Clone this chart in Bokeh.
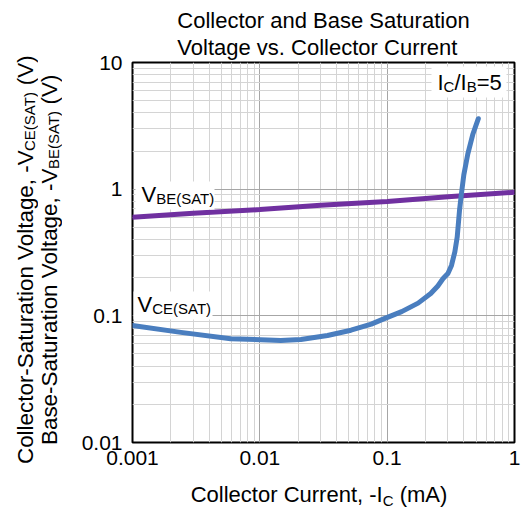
import math
from bokeh.plotting import figure
from bokeh.models import Label, BoxAnnotation, FixedTicker, Div
from bokeh.layouts import row, column
from bokeh.embed import file_html
from bokeh.resources import INLINE

# ---------------- data ----------------
x_ticks = [0.001, 0.01, 0.1, 1]
x_tick_labels = ["0.001", "0.01", "0.1", "1"]
y_ticks = [0.01, 0.1, 1, 10]
y_tick_labels = ["0.01", "0.1", "1", "10"]

ic_vbe = [0.001, 0.003, 0.01, 0.03, 0.1, 0.3, 1.0]
vbe_sat = [0.60, 0.645, 0.69, 0.745, 0.80, 0.87, 0.945]

ic_vce = [0.001, 0.0024, 0.0059, 0.0146, 0.021, 0.034, 0.052, 0.075, 0.095, 0.13,
          0.175, 0.22, 0.25, 0.275, 0.30, 0.32, 0.34, 0.355, 0.37, 0.383, 0.40,
          0.43, 0.47, 0.52]
vce_sat = [0.084, 0.074, 0.066, 0.064, 0.065, 0.070, 0.077, 0.086, 0.095, 0.108,
           0.126, 0.150, 0.172, 0.197, 0.216, 0.25, 0.32, 0.42, 0.68, 0.92, 1.3,
           1.9, 2.7, 3.6]

title_lines = ["Collector and Base Saturation", "Voltage vs. Collector Current"]

# ---------------- layout (Bokeh's page has no body margin) ----------------
YL_W = 66              # width of the y-label strip
PW, PH = 455, 480      # figure size
XL_H = 36              # x-label strip height
BL, BR, BT, BB = 66, 7, 62, 38
FL = YL_W + BL                 # 132
FR = YL_W + PW - BR            # 514
FT = BT                        # 62
FB = PH - BB                   # 442

XMIN, XMAX = 0.001, 1.0
YMIN, YMAX = 0.01, 10.0
LX0, LX1 = math.log10(XMIN), math.log10(XMAX)
LY0, LY1 = math.log10(YMIN), math.log10(YMAX)


def xd(px):
    return 10 ** (LX0 + (LX1 - LX0) * (px - FL) / (FR - FL))


def yd(py):
    return 10 ** (LY0 + (LY1 - LY0) * (FB - py) / (FB - FT))


FONT = "Liberation Sans"
CW = {' ': 278, '(': 333, ')': 333, ',': 278, '-': 333, '.': 278, '/': 278,
      '=': 584, 'A': 667, 'B': 667, 'C': 722, 'E': 667, 'I': 278, 'S': 667,
      'T': 611, 'V': 667}
for d in "0123456789":
    CW[d] = 556


def tw(text, size):
    return sum(CW.get(c, 556) for c in text) / 1000.0 * size


p = figure(width=PW, height=PH, x_axis_type="log", y_axis_type="log",
           x_range=(XMIN, XMAX), y_range=(YMIN, YMAX),
           output_backend="svg", toolbar_location=None,
           min_border_left=BL, min_border_right=BR, min_border_top=BT,
           min_border_bottom=BB, margin=(0, 0, 0, 0))
p.background_fill_color = "white"
p.border_fill_color = "white"
p.outline_line_color = "black"
p.outline_line_width = 2

p.title.text = "\n".join(title_lines)
p.title.align = "center"
p.title.text_font = FONT
p.title.text_font_size = "22px"
p.title.text_font_style = "normal"
p.title.text_color = "black"
p.title.text_line_height = 1.1
p.title.standoff = 5

minor_x = [m * 10 ** k for k in range(-3, 0) for m in range(2, 10)]
minor_y = [m * 10 ** k for k in range(-2, 1) for m in range(2, 10)]
p.xaxis.ticker = FixedTicker(ticks=x_ticks, minor_ticks=minor_x)
p.yaxis.ticker = FixedTicker(ticks=y_ticks, minor_ticks=minor_y)
p.xaxis.major_label_overrides = dict(zip(x_ticks, x_tick_labels))
p.yaxis.major_label_overrides = dict(zip(y_ticks, y_tick_labels))

for ax in (p.xaxis, p.yaxis):
    ax.axis_line_color = None
    ax.major_tick_line_color = None
    ax.minor_tick_line_color = None
    ax.major_tick_out = 0
    ax.major_tick_in = 0
    ax.minor_tick_out = 0
    ax.minor_tick_in = 0
    ax.major_label_text_font = FONT
    ax.major_label_text_font_size = "21px"
    ax.major_label_text_color = "black"
p.xaxis.major_label_standoff = 8
p.yaxis.major_label_standoff = 10

for g in (p.xgrid, p.ygrid):
    g.grid_line_color = "#a6a6a6"
    g.grid_line_width = 1
    g.minor_grid_line_color = "#d4d4d4"
    g.minor_grid_line_width = 1

p.line(ic_vbe, vbe_sat, line_width=5, line_color="#7030a0", line_cap="round")
p.line(ic_vce, vce_sat, line_width=5, line_color="#4a7ebf", line_cap="round",
       line_join="round")

MAIN, SUB, SUBOFF = 22, 15, 4


def add_text(px, py, text, size):
    p.add_layout(Label(x=xd(px), y=yd(py), text=text, text_font=FONT,
                       text_font_size=f"{size}px", text_color="black",
                       text_align="left", text_baseline="alphabetic"))


def rich(px, py, parts):
    pos = px
    for t, s in parts:
        size = SUB if s else MAIN
        add_text(pos, py + (SUBOFF if s else 0), t, size)
        pos += tw(t, size)


# white boxes behind in-plot labels
for l, r, t, b in [(135, 214, 181, 209), (133, 212, 291, 319), (431, 506, 66, 97)]:
    p.add_layout(BoxAnnotation(left=xd(l), right=xd(r), top=yd(t), bottom=yd(b),
                               fill_color="white", fill_alpha=1.0, line_color=None))

rich(141, 194, [("V", False), ("BE(SAT)", True)])
rich(137, 304, [("V", False), ("CE(SAT)", True)])
rich(437, 82, [("I", False), ("C", True), ("/I", False), ("B", True), ("=5", False)])

# ---------------- axis titles as HTML text (with subscripts) ----------------
BASE = f"font-family:'{FONT}',Arial,sans-serif;color:black;"
SUBV = "font-size:15px;position:relative;left:-4px;"
SUBH = "font-size:15px;position:relative;top:4px;"


def vline(left, main, sub, tail):
    return (f'<div style="position:absolute;left:{left}px;top:4px;width:24px;height:512px;'
            f'writing-mode:vertical-rl;transform:rotate(180deg);text-align:center;'
            f'line-height:24px;font-size:22.4px;white-space:nowrap;">'
            f'{main}<span style="{SUBV}">{sub}</span>{tail}</div>')


ytext = (f'<div style="position:relative;width:{YL_W}px;height:516px;{BASE}">'
         + vline(14, "Collector-Saturation Voltage, -V", "CE(SAT)", " (V)")
         + vline(38, "Base-Saturation Voltage, -V", "BE(SAT)", " (V)")
         + '</div>')

xtext = (f'<div style="position:relative;width:{PW}px;height:{XL_H}px;{BASE}">'
         f'<div style="position:absolute;left:53px;top:3px;width:400px;text-align:center;'
         f'line-height:24px;font-size:22px;white-space:nowrap;">'
         f'Collector Current, -I<span style="{SUBH}">C</span> (mA)</div></div>')

ydiv = Div(text=ytext, width=YL_W, height=PH + XL_H, margin=(0, 0, 0, 0))
xdiv = Div(text=xtext, width=PW, height=XL_H, margin=(0, 0, 0, 0))

layout = row(ydiv, column(p, xdiv, spacing=0), spacing=0)

open("out.html", "w").write(file_html(layout, INLINE))
